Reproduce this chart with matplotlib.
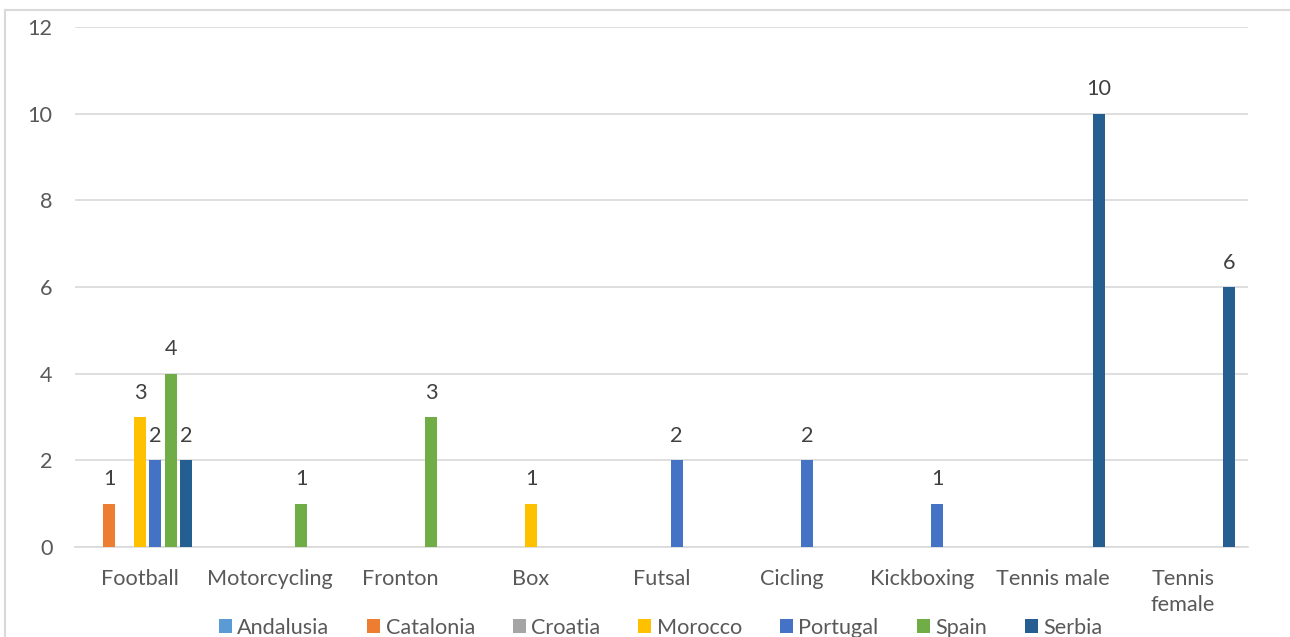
import numpy as np
import matplotlib.pyplot as plt
from matplotlib.patches import Rectangle

# Data ___________________________________________________________________________
sports = ["Football", "Motorcycling", "Fronton", "Box", "Futsal",
          "Cicling", "Kickboxing", "Tennis male", "Tennis\nfemale"]
regions = ["Andalusia", "Catalonia", "Croatia", "Morocco", "Portugal", "Spain", "Serbia"]

andalusia = [0, 0, 0, 0, 0, 0, 0, 0, 0]
catalonia = [1, 0, 0, 0, 0, 0, 0, 0, 0]
croatia   = [0, 0, 0, 0, 0, 0, 0, 0, 0]
morocco   = [3, 0, 0, 1, 0, 0, 0, 0, 0]
portugal  = [2, 0, 0, 0, 2, 2, 1, 0, 0]
spain     = [4, 1, 3, 0, 0, 0, 0, 0, 0]
serbia    = [2, 0, 0, 0, 0, 0, 0, 10, 6]

series = [andalusia, catalonia, croatia, morocco, portugal, spain, serbia]
colors = ["#5B9BD5", "#ED7D31", "#A5A5A5", "#FFC000", "#4472C4", "#70AD47", "#255E91"]

plt.rcParams['font.family'] = ['Lato', 'DejaVu Sans']
txt = "#595959"
fs = 15.6

fig = plt.figure(figsize=(12.9, 6.37), dpi=100)
ax = fig.add_axes([0.058, 0.1413, 0.9094, 0.8163])

x = np.arange(len(sports))
slot = 0.118
bw = 0.092
for i, (vals, name, c) in enumerate(zip(series, regions, colors)):
    pos = x + (i - 3) * slot
    v = np.array(vals, dtype=float)
    ax.bar(pos, v, width=bw, color=c, label=name, zorder=3)
    for p, val in zip(pos, vals):
        if val > 0:
            ax.text(p, val + 0.33, str(val), ha='center', va='bottom',
                    fontsize=fs, color="#404040")

ax.set_xlim(-0.5, len(sports) - 0.5)
ax.set_ylim(0, 12)
ax.set_yticks(range(0, 13, 2))
ax.set_xticks(x)
ax.set_xticklabels(sports, linespacing=1.35)
ax.tick_params(axis='both', length=0, labelsize=fs, labelcolor=txt)
ax.tick_params(axis='x', pad=16)
ax.tick_params(axis='y', pad=16)
ax.grid(axis='y', color="#d9d9d9", linewidth=1.2, zorder=0)
for s in ['top', 'right', 'left']:
    ax.spines[s].set_visible(False)
ax.spines['bottom'].set_color("#d9d9d9")
ax.spines['bottom'].set_linewidth(1.2)

leg = fig.legend(loc='lower center', bbox_to_anchor=(0.512, -0.032), ncol=7,
                 frameon=False, fontsize=fs, handlelength=0.6, handleheight=0.6,
                 handletextpad=0.25, columnspacing=1.75)
for t in leg.get_texts():
    t.set_color(txt)

# light frame around the chart
fig.patches.append(Rectangle((5 / 1290, -0.05), 1.1, 1 - 10 / 637 + 0.05,
                             transform=fig.transFigure, fill=False,
                             edgecolor="#d9d9d9", linewidth=1.5))

fig.savefig("out.png", dpi=100)
